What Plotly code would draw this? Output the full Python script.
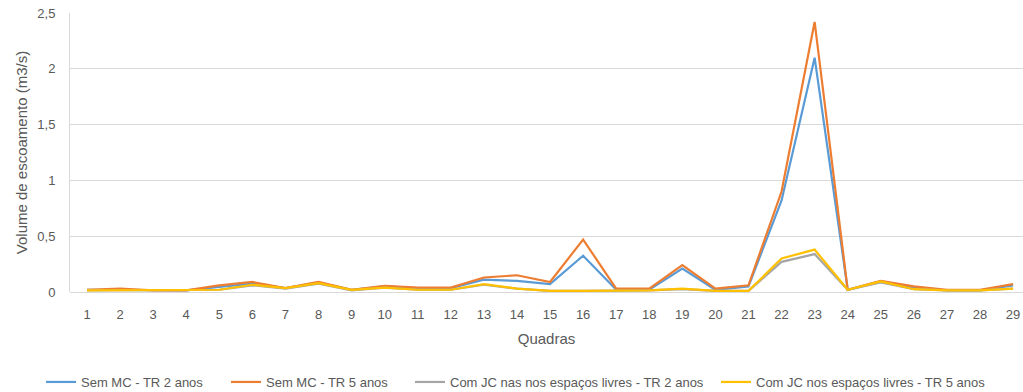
import plotly.graph_objects as go

quadras = list(range(1, 30))
sem_mc_tr2 = [0.02, 0.02, 0.015, 0.015, 0.045, 0.075, 0.035, 0.085, 0.02, 0.05,
              0.035, 0.035, 0.11, 0.10, 0.07, 0.325, 0.02, 0.02, 0.21, 0.02,
              0.05, 0.82, 2.10, 0.02, 0.095, 0.04, 0.015, 0.015, 0.06]
sem_mc_tr5 = [0.02, 0.03, 0.015, 0.015, 0.06, 0.09, 0.035, 0.09, 0.02, 0.055,
              0.04, 0.04, 0.13, 0.15, 0.09, 0.47, 0.03, 0.03, 0.24, 0.03,
              0.06, 0.90, 2.42, 0.02, 0.10, 0.05, 0.02, 0.02, 0.07]
com_jc_tr2 = [0.015, 0.015, 0.015, 0.015, 0.02, 0.06, 0.03, 0.075, 0.015, 0.04,
              0.02, 0.02, 0.065, 0.03, 0.01, 0.01, 0.01, 0.015, 0.025, 0.01,
              0.01, 0.27, 0.34, 0.02, 0.085, 0.025, 0.015, 0.015, 0.03]
com_jc_tr5 = [0.015, 0.015, 0.015, 0.015, 0.02, 0.065, 0.035, 0.08, 0.02, 0.04,
              0.02, 0.02, 0.07, 0.03, 0.01, 0.01, 0.01, 0.015, 0.03, 0.01,
              0.01, 0.30, 0.38, 0.02, 0.095, 0.025, 0.015, 0.015, 0.03]
names = ["Sem MC - TR 2 anos", "Sem MC - TR 5 anos",
         "Com JC nas nos espaços livres - TR 2 anos",
         "Com JC nos espaços livres - TR 5 anos"]
colors = ["#5B9BD5", "#ED7D31", "#A5A5A5", "#FFC000"]
series = [sem_mc_tr2, sem_mc_tr5, com_jc_tr2, com_jc_tr5]

legend_ids = ["legend", "legend2", "legend3", "legend4"]
fig = go.Figure()
for name, vals, col, lid in zip(names, series, colors, legend_ids):
    fig.add_trace(go.Scatter(x=quadras, y=vals, mode="lines", name=name, legend=lid,
                             line=dict(color=col, width=2.2)))

font_family = "Liberation Sans"

# legend positions (text start pixels) converted to plot-area fractions
plot_left, plot_width = 70, 953
text_starts = [83, 268, 452, 758]
leg_common = dict(orientation="h", yref="container", y=1 - 382 / 392, yanchor="middle",
                  xanchor="left", font=dict(family=font_family, size=13, color="#595959"),
                  itemwidth=30, bgcolor="rgba(0,0,0,0)")
legends = {}
for lid, ts in zip(legend_ids, text_starts):
    legends[lid] = dict(x=(ts - 42 - plot_left) / plot_width, **leg_common)

fig.update_layout(
    width=1023, height=392,
    margin=dict(l=70, r=0, t=13, b=100, autoexpand=False),
    paper_bgcolor="white", plot_bgcolor="white",
    separators=",.",
    font=dict(family=font_family, size=13, color="#595959"),
    showlegend=True,
    xaxis=dict(range=[0.486, 29.3], tickmode="array", tickvals=quadras,
               ticktext=[str(q) for q in quadras], showgrid=False, zeroline=False,
               showline=False, ticks="", ticklabelstandoff=13,
               tickfont=dict(size=13, color="#595959"),
               title=dict(text="Quadras", font=dict(size=15, color="#595959"), standoff=12)),
    yaxis=dict(range=[0, 2.5], dtick=0.5, tick0=0, showgrid=True, gridcolor="#D9D9D9",
               gridwidth=1, zeroline=True, zerolinecolor="#D9D9D9", zerolinewidth=1,
               showline=True, linecolor="#D9D9D9", linewidth=1, ticks="",
               ticklabelstandoff=11, tickfont=dict(size=13, color="#595959"),
               title=dict(text="Volume de escoamento (m3/s)", font=dict(size=15, color="#595959"),
                          standoff=6)),
    **legends,
)
fig.write_html("out.html")
